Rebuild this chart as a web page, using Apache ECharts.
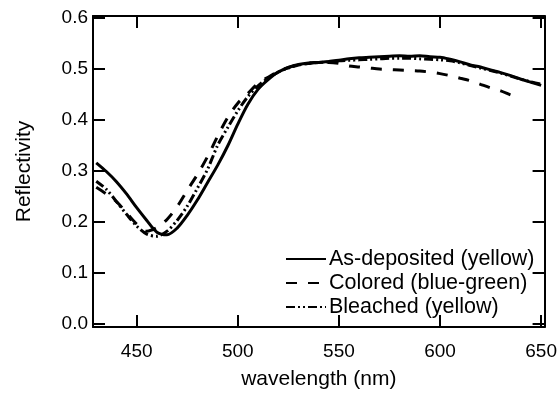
<!DOCTYPE html>
<html>
<head>
<meta charset="utf-8">
<script src="https://cdn.jsdelivr.net/npm/echarts@6/dist/echarts.min.js"></script>
<style>
  html, body { margin: 0; padding: 0; background: #fff; }
  #chart { width: 560px; height: 395px; }
</style>
</head>
<body>
<div id="chart"></div>
<script>
const wavelength = [430, 435, 440, 445, 450, 455, 460, 465, 470, 475, 480, 485, 490, 495, 500, 505, 510, 515, 520, 525, 530, 535, 540, 545, 550, 555, 560, 565, 570, 575, 580, 585, 590, 595, 600, 605, 610, 615, 620, 625, 630, 635, 640, 645, 650];

const asDeposited = [0.316, 0.299, 0.279, 0.255, 0.228, 0.203, 0.180, 0.175, 0.188, 0.213, 0.243, 0.277, 0.311, 0.349, 0.392, 0.431, 0.460, 0.479, 0.494, 0.503, 0.509, 0.512, 0.513, 0.515, 0.517, 0.520, 0.522, 0.523, 0.524, 0.525, 0.526, 0.525, 0.526, 0.524, 0.523, 0.519, 0.514, 0.508, 0.504, 0.498, 0.493, 0.487, 0.480, 0.474, 0.468];

const colored = [0.268, 0.255, 0.240, 0.218, 0.196, 0.182, 0.189, 0.205, 0.230, 0.262, 0.293, 0.328, 0.368, 0.405, 0.433, 0.452, 0.472, 0.484, 0.495, 0.503, 0.508, 0.511, 0.513, 0.513, 0.511, 0.506, 0.504, 0.502, 0.500, 0.499, 0.498, 0.497, 0.496, 0.494, 0.491, 0.487, 0.482, 0.477, 0.470, 0.463, 0.457, 0.449, 0.442, null, null];

const bleached = [0.280, 0.264, 0.240, 0.215, 0.192, 0.176, 0.172, 0.182, 0.203, 0.231, 0.266, 0.303, 0.350, 0.385, 0.418, 0.446, 0.467, 0.482, 0.494, 0.502, 0.508, 0.511, 0.513, 0.514, 0.516, 0.517, 0.518, 0.519, 0.520, 0.521, 0.521, 0.521, 0.520, 0.519, 0.518, 0.516, 0.512, 0.507, 0.502, 0.497, 0.492, 0.486, 0.480, 0.475, 0.470];

const xTicks = [450, 500, 550, 600, 650];
const yTicks = [0.0, 0.1, 0.2, 0.3, 0.4, 0.5, 0.6];

const seriesNames = ["As-deposited (yellow)", "Colored (blue-green)", "Bleached (yellow)"];

const FONT = "Liberation Sans";
const INK = "#000";

const chart = echarts.init(document.getElementById("chart"), null, { renderer: "canvas" });

const pairs = (ys) => wavelength.map((w, i) => [w, ys[i]]);

const lineSeries = (name, ys, type) => ({
  name,
  type: "line",
  data: pairs(ys),
  showSymbol: false,
  symbol: "none",
  smooth: 0.3,
  connectNulls: false,
  lineStyle: { color: INK, width: 3, type },
  itemStyle: { color: INK },
  emphasis: { disabled: true },
});

const axisBase = {
  type: "value",
  axisLine: { show: true, onZero: false, lineStyle: { color: INK, width: 2 } },
  axisTick: { show: true, inside: true, length: 12, lineStyle: { color: INK, width: 2 } },
  splitLine: { show: false },
};

chart.setOption({
  animation: false,
  backgroundColor: "#fff",
  grid: { left: 93, right: 14, top: 16, bottom: 61 },
  xAxis: [
    {
      ...axisBase,
      position: "bottom",
      min: 428.4,
      max: 651.7,
      axisTick: { ...axisBase.axisTick, customValues: xTicks },
      axisLabel: {
        customValues: xTicks,
        color: INK,
        fontFamily: FONT,
        fontSize: 19,
        margin: 15,
      },
      name: "wavelength (nm)",
      nameLocation: "middle",
      nameGap: 42,
      nameTextStyle: { color: INK, fontFamily: FONT, fontSize: 21 },
    },
    {
      ...axisBase,
      position: "top",
      min: 428.4,
      max: 651.7,
      axisTick: { ...axisBase.axisTick, customValues: xTicks },
      axisLabel: { show: false },
    },
  ],
  yAxis: [
    {
      ...axisBase,
      position: "left",
      min: -0.006,
      max: 0.604,
      axisTick: { ...axisBase.axisTick, customValues: yTicks },
      axisLabel: {
        customValues: yTicks,
        color: INK,
        fontFamily: FONT,
        fontSize: 19,
        margin: 5,
        formatter: (v) => v.toFixed(1),
      },
      name: "Reflectivity",
      nameLocation: "middle",
      nameGap: 58,
      nameTextStyle: { color: INK, fontFamily: FONT, fontSize: 21 },
    },
    {
      ...axisBase,
      position: "right",
      min: -0.006,
      max: 0.604,
      axisTick: { ...axisBase.axisTick, customValues: yTicks },
      axisLabel: { show: false },
    },
  ],
  legend: {
    data: seriesNames,
    orient: "vertical",
    left: 285,
    top: 248,
    padding: 0,
    itemWidth: 40,
    itemHeight: 14,
    itemGap: 2,
    selectedMode: false,
    itemStyle: { opacity: 0 },
    textStyle: { color: INK, fontFamily: FONT, fontSize: 21.5, lineHeight: 21, padding: [0, 0, 0, -2] },
  },
  series: [
    lineSeries(seriesNames[0], asDeposited, "solid"),
    lineSeries(seriesNames[1], colored, [11, 11]),
    lineSeries(seriesNames[2], bleached, [9, 3, 2, 3, 2, 3]),
  ],
});
</script>
</body>
</html>
